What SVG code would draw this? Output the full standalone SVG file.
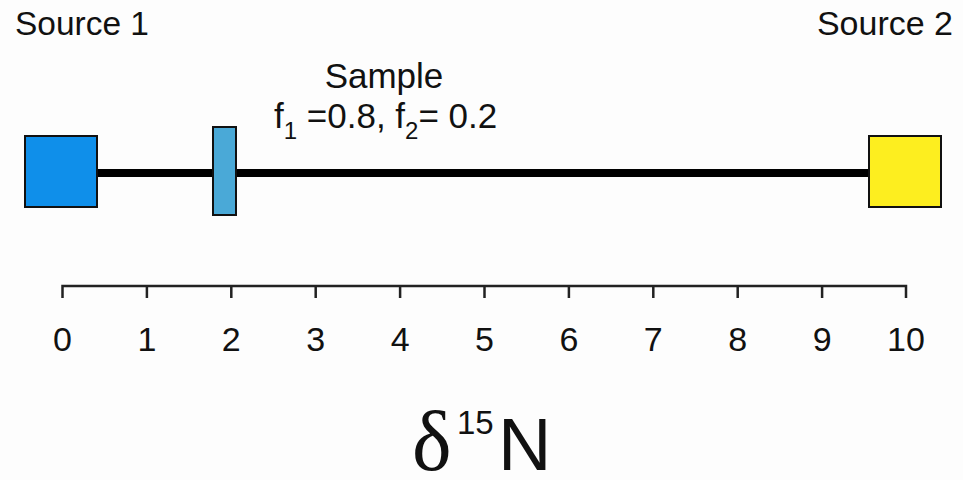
<svg xmlns="http://www.w3.org/2000/svg" width="963" height="480" viewBox="0 0 963 480">
<style>
.lbl{font-family:"Liberation Sans",Arial,sans-serif;fill:#111}
.box{stroke:#111;stroke-width:2}
.tick{stroke:#222;stroke-width:2.5;fill:none}
.num{font-family:"Liberation Sans",Arial,sans-serif;font-size:34px;fill:#111;text-anchor:middle}
</style>
<rect width="963" height="480" fill="#fdfdfd"/>
<g id="connectors">
<line x1="97" y1="173" x2="869" y2="173" stroke="#000" stroke-width="8"/>
</g>
<g id="source1">
<rect class="box" x="25" y="136" width="72" height="71" fill="#0f8fea"/>
<text class="lbl" x="15" y="35" font-size="34" textLength="134" lengthAdjust="spacingAndGlyphs">Source 1</text>
</g>
<g id="source2">
<rect class="box" x="869" y="136" width="72" height="71" fill="#fdee1f"/>
<text class="lbl" x="953" y="35" font-size="34" text-anchor="end">Source 2</text>
</g>
<g id="sample">
<rect class="box" x="213" y="127" width="23" height="88" fill="#4aa9d7"/>
<text class="lbl" x="384" y="88" font-size="35" text-anchor="middle">Sample</text>
<text class="lbl" x="274" y="128" font-size="35">f<tspan font-size="24" dy="11">1</tspan><tspan dy="-11"> =0.8, f</tspan><tspan font-size="24" dy="11">2</tspan><tspan dy="-11">= 0.2</tspan></text>
</g>
<g id="axis">
<path class="tick" d="M62.5 298V286H906V298M146.9 286V298M231.3 286V298M315.7 286V298M400.1 286V298M484.5 286V298M568.9 286V298M653.3 286V298M737.7 286V298M822.1 286V298"/>
<text class="num" x="62.5" y="351">0</text>
<text class="num" x="146.9" y="351">1</text>
<text class="num" x="231.3" y="351">2</text>
<text class="num" x="315.7" y="351">3</text>
<text class="num" x="400.1" y="351">4</text>
<text class="num" x="484.5" y="351">5</text>
<text class="num" x="568.9" y="351">6</text>
<text class="num" x="653.3" y="351">7</text>
<text class="num" x="737.7" y="351">8</text>
<text class="num" x="822.1" y="351">9</text>
<text class="num" x="906" y="351">10</text>
</g>
<g id="title">
<text x="412" y="470" font-family="'Liberation Serif','Times New Roman',serif" font-size="84" fill="#111">δ</text>
<text x="457" y="434" font-family="'Liberation Sans',Arial,sans-serif" font-size="33" fill="#111">15</text>
<text x="498" y="470" font-family="'Liberation Sans',Arial,sans-serif" font-size="74" fill="#111">N</text>
</g>
</svg>
